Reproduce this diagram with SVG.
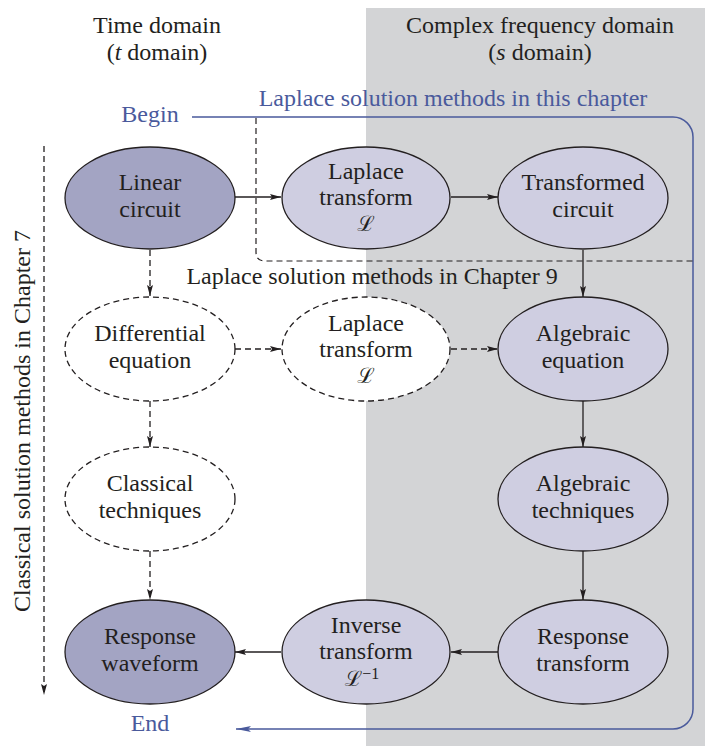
<svg xmlns="http://www.w3.org/2000/svg" width="705" height="746" viewBox="0 0 705 746">
<style>
text{font-family:"Liberation Serif","Times New Roman",serif;font-size:24px;fill:#231f20;text-anchor:middle}
.blue{fill:#4a5a9c}
.dark{fill:#a3a4c3;stroke:#231f20;stroke-width:1.3}
.light{fill:#cfcee1;stroke:#231f20;stroke-width:1.3}
.dash{fill:#ffffff;stroke:#231f20;stroke-width:1.3;stroke-dasharray:6 4}
.ar{stroke:#231f20;stroke-width:1.3;fill:none;marker-end:url(#ah)}
.ard{stroke:#231f20;stroke-width:1.3;fill:none;stroke-dasharray:6 4;marker-end:url(#ah)}
.script{font-family:"DejaVu Serif","Noto Sans",serif;font-style:italic;font-size:21px}
</style>
<defs>
<marker id="ah" markerUnits="userSpaceOnUse" markerWidth="12" markerHeight="8" refX="11" refY="4" orient="auto">
<path d="M0,1 L11,4 L0,7 L2,4 z" fill="#231f20"/>
</marker>
<marker id="ahb" markerUnits="userSpaceOnUse" markerWidth="16" markerHeight="8" refX="15" refY="4" orient="auto">
<path d="M0,1 L15,4 L0,7 L3,4 z" fill="#4a5a9c"/>
</marker>
</defs>
<rect x="366" y="8" width="339" height="738" fill="#d3d4d6"/>
<g id="headers">
<text x="157" y="33">Time domain</text>
<text x="157" y="60">(<tspan font-style="italic">t</tspan> domain)</text>
<text x="540" y="33">Complex frequency domain</text>
<text x="540" y="60">(<tspan font-style="italic">s</tspan> domain)</text>
</g>
<g id="connectors">
<path d="M192,117 H673 A20,20 0 0 1 693,137 V709 A20,20 0 0 1 673,729 H236" fill="none" stroke="#4a5a9c" stroke-width="1.5" marker-end="url(#ahb)"/>
<path d="M256,118 V252 Q256,261 265,261 H693" fill="none" stroke="#231f20" stroke-width="1.2" stroke-dasharray="6 4"/>
<path d="M44,146 V695" class="ard"/>
<path d="M235,197 H281" class="ar"/>
<path d="M451,197 H498" class="ar"/>
<path d="M583,250 V297" class="ar"/>
<path d="M150,250 V296" class="ard"/>
<path d="M235,349 H281" class="ard"/>
<path d="M451,349 H498" class="ard"/>
<path d="M150,401 V447" class="ard"/>
<path d="M150,551 V600" class="ard"/>
<path d="M583,401 V447" class="ar"/>
<path d="M583,551 V600" class="ar"/>
<path d="M498,652 H451" class="ar"/>
<path d="M281,652 H235" class="ar"/>
</g>
<g id="labels">
<text x="453" y="106" class="blue">Laplace solution methods in this chapter</text>
<text x="150" y="122" class="blue">Begin</text>
<text x="150" y="731" class="blue">End</text>
<text x="372" y="284">Laplace solution methods in Chapter 9</text>
<text transform="translate(30,421) rotate(-90)">Classical solution methods in Chapter 7</text>
</g>
<g id="linear-circuit">
<ellipse cx="150" cy="198" rx="85" ry="51" class="dark"/>
<text x="150" y="190">Linear</text>
<text x="150" y="217">circuit</text>
</g>
<g id="laplace-transform">
<ellipse cx="366" cy="198" rx="84" ry="51" class="light"/>
<text x="366" y="179">Laplace</text>
<text x="366" y="205">transform</text>
<text x="366" y="231" class="script">ℒ</text>
</g>
<g id="transformed-circuit">
<ellipse cx="583" cy="198" rx="85" ry="51" class="light"/>
<text x="583" y="190">Transformed</text>
<text x="583" y="217">circuit</text>
</g>
<g id="differential-equation">
<ellipse cx="150" cy="349" rx="85" ry="52" class="dash"/>
<text x="150" y="341">Differential</text>
<text x="150" y="368">equation</text>
</g>
<g id="laplace-transform-2">
<ellipse cx="366" cy="349" rx="84" ry="52" class="dash"/>
<text x="366" y="331">Laplace</text>
<text x="366" y="357">transform</text>
<text x="366" y="383" class="script">ℒ</text>
</g>
<g id="algebraic-equation">
<ellipse cx="583" cy="349" rx="85" ry="52" class="light"/>
<text x="583" y="341">Algebraic</text>
<text x="583" y="368">equation</text>
</g>
<g id="classical-techniques">
<ellipse cx="150" cy="499" rx="85" ry="52" class="dash"/>
<text x="150" y="491">Classical</text>
<text x="150" y="518">techniques</text>
</g>
<g id="algebraic-techniques">
<ellipse cx="583" cy="499" rx="85" ry="52" class="light"/>
<text x="583" y="491">Algebraic</text>
<text x="583" y="518">techniques</text>
</g>
<g id="response-waveform">
<ellipse cx="150" cy="652" rx="85" ry="52" class="dark"/>
<text x="150" y="644">Response</text>
<text x="150" y="671">waveform</text>
</g>
<g id="inverse-transform">
<ellipse cx="366" cy="652" rx="84" ry="52" class="light"/>
<text x="366" y="633">Inverse</text>
<text x="366" y="659">transform</text>
<text x="362" y="686" class="script">ℒ<tspan font-style="normal" font-family="Liberation Serif,serif" font-size="16" dy="-7">−1</tspan></text>
</g>
<g id="response-transform">
<ellipse cx="583" cy="652" rx="85" ry="52" class="light"/>
<text x="583" y="644">Response</text>
<text x="583" y="671">transform</text>
</g>
</svg>
